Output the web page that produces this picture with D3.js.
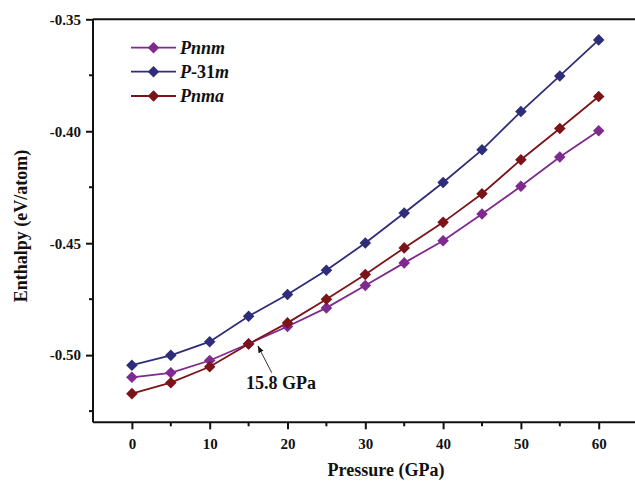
<!DOCTYPE html>
<html>
<head>
<meta charset="utf-8">
<script src="https://cdn.jsdelivr.net/npm/d3@7"></script>
<style>
  html, body { margin: 0; padding: 0; background: #fff; }
  svg { display: block; }
  text { font-family: "Liberation Serif", "Times New Roman", serif; font-weight: bold; fill: #111; }
</style>
</head>
<body>
<div id="chart"></div>
<script>
const pressure = [0, 5, 10, 15, 20, 25, 30, 35, 40, 45, 50, 55, 60];
const pnnm  = [-0.5099, -0.5079, -0.5024, -0.4949, -0.4872, -0.4789, -0.4689, -0.4588, -0.4489, -0.4370, -0.4246, -0.4115, -0.3998];
const p31m  = [-0.5045, -0.5001, -0.4940, -0.4826, -0.4729, -0.4621, -0.4499, -0.4365, -0.4229, -0.4083, -0.3912, -0.3753, -0.3592];
const pnma  = [-0.5172, -0.5123, -0.5052, -0.4950, -0.4856, -0.4750, -0.4640, -0.4521, -0.4407, -0.4279, -0.4127, -0.3988, -0.3845];
const seriesNames = ["Pnnm", "P-31m", "Pnma"];
const xTicks = [0, 10, 20, 30, 40, 50, 60];
const yTicks = [-0.50, -0.45, -0.40, -0.35];
const annotation = { text: "15.8 GPa", x: 15.8, y: -0.4945 };

(function () {
const W = 635, H = 481;
const mLeft = 93, mTop = 19.3, mRight = 637.6, mBottom = 422.3;
const colors = ["#7e2a8e", "#2f2d7a", "#7b1418"];
const seriesData = [pnnm, p31m, pnma];

const svg = d3.select("#chart").append("svg").attr("width", W).attr("height", H);

const x = d3.scaleLinear().domain([-5, 65]).range([mLeft, mRight]);
const y = d3.scaleLinear().domain([-0.53, -0.35]).range([mBottom, mTop]);

const xMinor = [5, 15, 25, 35, 45, 55];
const yMinor = [-0.525, -0.475, -0.425, -0.375];

const xAxis = svg.append("g").attr("transform", `translate(0,${mBottom})`)
  .call(d3.axisBottom(x).tickValues(xTicks).tickSize(7).tickPadding(9).tickFormat(d3.format("d")));
xAxis.selectAll(".tick line").attr("stroke", "#111").attr("stroke-width", 2);
xAxis.selectAll(".tick text").attr("font-size", 15).attr("font-family", "Liberation Serif").attr("font-weight", "bold").attr("fill", "#111");
xAxis.select(".domain").remove();
svg.append("g").attr("transform", `translate(0,${mBottom})`)
  .selectAll("line").data(xMinor).join("line")
  .attr("x1", d => x(d)).attr("x2", d => x(d)).attr("y1", 0).attr("y2", 4)
  .attr("stroke", "#111").attr("stroke-width", 2);

const yAxis = svg.append("g").attr("transform", `translate(${mLeft},0)`)
  .call(d3.axisLeft(y).tickValues(yTicks).tickSize(7).tickPadding(5).tickFormat(d => d3.format(".2f")(d).replace("\u2212", "-")));
yAxis.selectAll(".tick line").attr("stroke", "#111").attr("stroke-width", 2);
yAxis.selectAll(".tick text").attr("font-size", 15).attr("font-family", "Liberation Serif").attr("font-weight", "bold").attr("fill", "#111");
yAxis.select(".domain").remove();
svg.append("g").attr("transform", `translate(${mLeft},0)`)
  .selectAll("line").data(yMinor).join("line")
  .attr("x1", 0).attr("x2", -4).attr("y1", d => y(d)).attr("y2", d => y(d))
  .attr("stroke", "#111").attr("stroke-width", 2);

// frame lines
svg.append("line").attr("x1", mLeft).attr("x2", W + 5).attr("y1", mBottom).attr("y2", mBottom).attr("stroke", "#111").attr("stroke-width", 2);
svg.append("line").attr("x1", mLeft).attr("x2", mLeft).attr("y1", mTop).attr("y2", mBottom).attr("stroke", "#111").attr("stroke-width", 2);
svg.append("line").attr("x1", mLeft).attr("x2", W + 5).attr("y1", mTop).attr("y2", mTop).attr("stroke", "#111").attr("stroke-width", 2);

// axis titles
svg.append("text").attr("x", 386).attr("y", 476).attr("text-anchor", "middle").attr("font-size", 18).text("Pressure (GPa)");
svg.append("text").attr("transform", "translate(27,226) rotate(-90)").attr("text-anchor", "middle").attr("font-size", 18).text("Enthalpy (eV/atom)");

// series
const line = d3.line().x((d, i) => x(pressure[i])).y(d => y(d));
const diamond = d3.symbol().type(d3.symbolDiamond2).size(85);
const drawOrder = [0, 2, 1];
drawOrder.forEach(k => {
  svg.append("path").datum(seriesData[k]).attr("d", line)
    .attr("fill", "none").attr("stroke", colors[k]).attr("stroke-width", 1.8);
});
drawOrder.forEach(k => {
  svg.append("g").selectAll("path").data(seriesData[k]).join("path")
    .attr("transform", (d, i) => `translate(${x(pressure[i])},${y(d)})`)
    .attr("d", diamond).attr("fill", colors[k]);
});

// annotation arrow
const defs = svg.append("defs");
defs.append("marker").attr("id", "arr").attr("viewBox", "0 0 10 10").attr("refX", 10).attr("refY", 5)
  .attr("markerWidth", 7).attr("markerHeight", 7).attr("orient", "auto-start-reverse")
  .append("path").attr("d", "M0,1 L10,5 L0,9 Z").attr("fill", "#111");
const ax = x(annotation.x), ay = y(annotation.y);
svg.append("line").attr("x1", ax + 17).attr("y1", ay + 30).attr("x2", ax + 3).attr("y2", ay + 3)
  .attr("stroke", "#333").attr("stroke-width", 1).attr("marker-end", "url(#arr)");
svg.append("text").attr("x", 246).attr("y", 389).attr("font-size", 18).text(annotation.text);

// legend
const legY = [47.7, 71.7, 96];
seriesNames.forEach((name, k) => {
  const g = svg.append("g");
  g.append("line").attr("x1", 131).attr("x2", 176).attr("y1", legY[k]).attr("y2", legY[k]).attr("stroke", colors[k]).attr("stroke-width", 1.8);
  g.append("path").attr("transform", `translate(153.5,${legY[k]})`).attr("d", diamond).attr("fill", colors[k]);
  const t = g.append("text").attr("x", 180).attr("y", legY[k] + 6).attr("font-size", 18);
  if (name === "P-31m") {
    t.append("tspan").attr("font-style", "italic").text("P");
    t.append("tspan").text("-31");
    t.append("tspan").attr("font-style", "italic").text("m");
  } else {
    t.append("tspan").attr("font-style", "italic").text(name);
  }
});
})();
</script>
</body>
</html>
